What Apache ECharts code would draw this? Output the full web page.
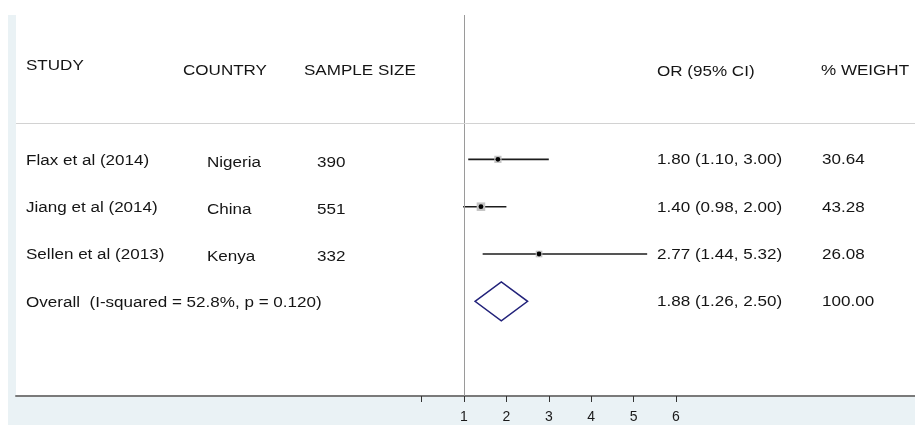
<!DOCTYPE html>
<html><head><meta charset="utf-8">
<script src="https://cdn.jsdelivr.net/npm/echarts@6/dist/echarts.min.js"></script>
<style>html,body{margin:0;padding:0;background:#fff}#c{width:915px;height:425px}</style>
</head><body><div id="c"></div>
<script>
// ---- data ----
const headers = ['STUDY', 'COUNTRY', 'SAMPLE SIZE', 'OR (95% CI)', '% WEIGHT'];
const studies = ['Flax et al (2014)', 'Jiang et al (2014)', 'Sellen et al (2013)'];
const countries = ['Nigeria', 'China', 'Kenya'];
const sampleSizes = [390, 551, 332];
const orValues = [1.80, 1.40, 2.77];
const ciLower = [1.10, 0.98, 1.44];
const ciUpper = [3.00, 2.00, 5.32];
const weights = [30.64, 43.28, 26.08];
const overallLabel = 'Overall  (I-squared = 52.8%, p = 0.120)';
const overallOR = [1.88];
const overallLower = [1.26];
const overallUpper = [2.50];
const overallWeight = [100.00];
const tickValues = [0, 1, 2, 3, 4, 5, 6];
const tickLabels = [1, 2, 3, 4, 5, 6];
const studyRows = [3, 4, 5];
const overallRow = [6];
const nullValue = 1;

// ---- layout ----
const FONT = 'Liberation Sans';
const TXT = '#151515';
const colX = { study: 26, country: 207, sample: 317, or: 657, weight: 822 };
const headX = [26, 183, 304, 657, 821];
const headY = [65.5, 70.5, 70.5, 71.5, 71];

const fmt = v => v.toFixed(2);

const chart = echarts.init(document.getElementById('c'), null, { renderer: 'canvas' });

const studyData = studies.map((s, i) => [ciLower[i], ciUpper[i], orValues[i], studyRows[i], weights[i]]);
const overallData = [[overallLower[0], overallUpper[0], overallOR[0], overallRow[0]]];

chart.setOption({
  animation: false,
  grid: { left: 16, right: 0, top: 15, bottom: 29 },
  xAxis: {
    type: 'value', min: -9.566, max: 11.637, position: 'bottom',
    splitLine: { show: false },
    axisLine: { onZero: false, lineStyle: { color: '#7a7a7a', width: 2 } },
    axisTick: { customValues: tickValues, length: 6, lineStyle: { color: '#333', width: 1 } },
    axisLabel: { customValues: tickLabels, margin: 14, fontSize: 14, color: '#1a1a1a', fontFamily: FONT }
  },
  yAxis: { type: 'value', inverse: true, min: -0.05, max: 8.0, show: false },
  series: [
    {
      type: 'custom',
      data: studyData,
      encode: { x: [0, 1, 2], y: 3 },
      renderItem(params, api) {
        const lo = api.coord([api.value(0), api.value(3)]);
        const hi = api.coord([api.value(1), api.value(3)]);
        const mid = api.coord([api.value(2), api.value(3)]);
        const s = 1.3 * Math.sqrt(api.value(4));
        return {
          type: 'group', children: [
            { type: 'line', shape: { x1: lo[0], y1: lo[1], x2: hi[0], y2: hi[1] }, style: { stroke: '#1c1c1c', lineWidth: 1.6 } },
            { type: 'rect', shape: { x: mid[0] - s / 2, y: mid[1] - s / 2, width: s, height: s }, style: { fill: '#c4c4c4' } },
            { type: 'circle', shape: { cx: mid[0], cy: mid[1], r: 2.4 }, style: { fill: '#000' } }
          ]
        };
      },
      markLine: {
        silent: true, symbol: 'none', label: { show: false },
        lineStyle: { color: '#9a9a9a', width: 1, type: 'solid' },
        data: [
          { xAxis: nullValue },
          { yAxis: 2.232, lineStyle: { color: '#d2d2d2', width: 1, type: 'solid' } }
        ]
      }
    },
    {
      type: 'custom',
      data: overallData,
      encode: { x: [0, 1, 2], y: 3 },
      renderItem(params, api) {
        const lo = api.coord([api.value(0), api.value(3)]);
        const hi = api.coord([api.value(1), api.value(3)]);
        const mid = api.coord([api.value(2), api.value(3)]);
        const h = 19.5;
        return {
          type: 'polygon',
          shape: { points: [[lo[0], lo[1]], [mid[0], mid[1] - h], [hi[0], hi[1]], [mid[0], mid[1] + h]] },
          style: { fill: 'none', stroke: '#22227a', lineWidth: 1.5 }
        };
      }
    }
  ]
});

function rowY(r) { return chart.convertToPixel({ gridIndex: 0 }, [0, r])[1]; }
function txt(x, y, s) {
  return {
    type: 'text', x: x, y: y, scaleX: 1.1, z: 10, silent: true,
    style: { text: String(s), font: '15.5px "' + FONT + '"', fill: TXT, align: 'left', verticalAlign: 'middle' }
  };
}
const g = [
  { type: 'rect', shape: { x: 8, y: 15, width: 8, height: 410 }, style: { fill: '#eaf2f5' }, z: -5, silent: true },
  { type: 'rect', shape: { x: 8, y: 397, width: 907, height: 28 }, style: { fill: '#eaf2f5' }, z: -5, silent: true }
];
headers.forEach((h, i) => g.push(txt(headX[i], headY[i], h)));
studies.forEach((s, i) => {
  const y = rowY(studyRows[i]);
  g.push(txt(colX.study, y + 1, s));
  g.push(txt(colX.country, y + 3, countries[i]));
  g.push(txt(colX.sample, y + 3, sampleSizes[i]));
  g.push(txt(colX.or, y + 0.7, fmt(orValues[i]) + ' (' + fmt(ciLower[i]) + ', ' + fmt(ciUpper[i]) + ')'));
  g.push(txt(colX.weight, y + 0.7, fmt(weights[i])));
});
{
  const y = rowY(overallRow[0]);
  g.push(txt(colX.study, y + 1, overallLabel));
  g.push(txt(colX.or, y + 0.7, fmt(overallOR[0]) + ' (' + fmt(overallLower[0]) + ', ' + fmt(overallUpper[0]) + ')'));
  g.push(txt(colX.weight, y + 0.7, fmt(overallWeight[0])));
}
chart.setOption({ graphic: g });
</script>
</body></html>
